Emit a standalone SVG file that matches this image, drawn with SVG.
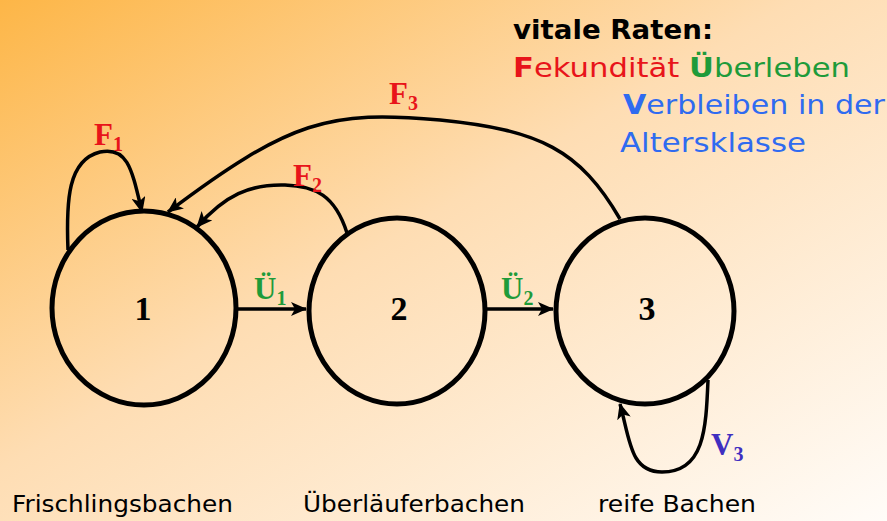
<svg xmlns="http://www.w3.org/2000/svg" width="887" height="521" viewBox="0 0 887 521">
<defs>
<linearGradient id="bg" x1="0" y1="0" x2="1" y2="1">
<stop offset="0" stop-color="#FDB647"/>
<stop offset="0.45" stop-color="#FEDDB3"/>
<stop offset="1" stop-color="#FFFCF8"/>
</linearGradient>
<marker id="ahL" markerWidth="16" markerHeight="14" refX="15" refY="7" orient="auto" markerUnits="userSpaceOnUse" viewBox="0 0 16 14">
<path d="M0,0 L16,7 L0,14 L4,7 z" fill="#000"/>
</marker>
</defs>
<style>
.node ellipse{fill:none;stroke:#000;stroke-width:5}
.num{font-family:"Liberation Serif",serif;font-weight:bold;font-size:34px;fill:#000;text-anchor:middle}
.edge{fill:none;stroke:#000;stroke-width:3.5}
.lbl{font-family:"Liberation Serif",serif;font-weight:bold;font-size:31px}
.sub{font-size:20px}
.red{fill:#E8141A}
.green{fill:#1E9B3A}
.purple{fill:#3F2FC0}
.leg{font-family:"DejaVu Sans",sans-serif;font-size:27px}
.cap{font-family:"DejaVu Sans",sans-serif;font-size:23px;fill:#000}
</style>
<rect width="887" height="521" fill="url(#bg)"/>

<g id="connectors">
<path class="edge" d="M238,309 L306,309" marker-end="url(#ahL)"/>
<path class="edge" d="M487,309 L553,309" marker-end="url(#ahL)"/>
<path class="edge" d="M68,250 C66,200 68,160 100,152 C128,146 132,170 142,212" marker-end="url(#ahL)"/>
<path class="edge" d="M347,233 C335,195 315,186 285,185 C250,184 225,195 197,227" marker-end="url(#ahL)"/>
<path class="edge" d="M620,219 C580,150 540,130 440,120 C330,110 290,120 168,212" marker-end="url(#ahL)"/>
<path class="edge" d="M708,380 C706,430 704,472 662,472 C630,472 630,440 620,404" marker-end="url(#ahL)"/>
</g>

<g id="node1" class="node">
<ellipse cx="144" cy="308" rx="92" ry="97"/>
<text class="num" x="143" y="320">1</text>
</g>
<g id="node2" class="node">
<ellipse cx="397" cy="311" rx="88" ry="93"/>
<text class="num" x="399" y="320">2</text>
</g>
<g id="node3" class="node">
<ellipse cx="645" cy="311" rx="89" ry="93"/>
<text class="num" x="647" y="320">3</text>
</g>

<g id="labels">
<text class="lbl red" x="94" y="145">F<tspan class="sub" dy="6">1</tspan></text>
<text class="lbl red" x="293" y="186">F<tspan class="sub" dy="6">2</tspan></text>
<text class="lbl red" x="389" y="104">F<tspan class="sub" dy="6">3</tspan></text>
<text class="lbl green" x="254" y="299">Ü<tspan class="sub" dy="6">1</tspan></text>
<text class="lbl green" x="501" y="299">Ü<tspan class="sub" dy="6">2</tspan></text>
<text class="lbl purple" x="711" y="455">V<tspan class="sub" dy="6">3</tspan></text>
</g>

<g id="legend">
<text class="leg" x="513" y="39" font-weight="bold" textLength="200" lengthAdjust="spacingAndGlyphs" fill="#000">vitale Raten:</text>
<text class="leg" x="513" y="77" textLength="337" lengthAdjust="spacingAndGlyphs"><tspan class="red" font-weight="bold">F</tspan><tspan class="red">ekundität  </tspan><tspan class="green" font-weight="bold">Ü</tspan><tspan class="green">berleben</tspan></text>
<text class="leg" x="623" y="114" textLength="262" lengthAdjust="spacingAndGlyphs" fill="#2F6BF0"><tspan font-weight="bold">V</tspan>erbleiben in der</text>
<text class="leg" x="620" y="152" textLength="186" lengthAdjust="spacingAndGlyphs" fill="#2F6BF0">Altersklasse</text>
</g>

<g id="captions">
<text class="cap" x="12" y="512" textLength="221" lengthAdjust="spacingAndGlyphs">Frischlingsbachen</text>
<text class="cap" x="303" y="512" textLength="222" lengthAdjust="spacingAndGlyphs">Überläuferbachen</text>
<text class="cap" x="598" y="512" textLength="158" lengthAdjust="spacingAndGlyphs">reife Bachen</text>
</g>
</svg>
